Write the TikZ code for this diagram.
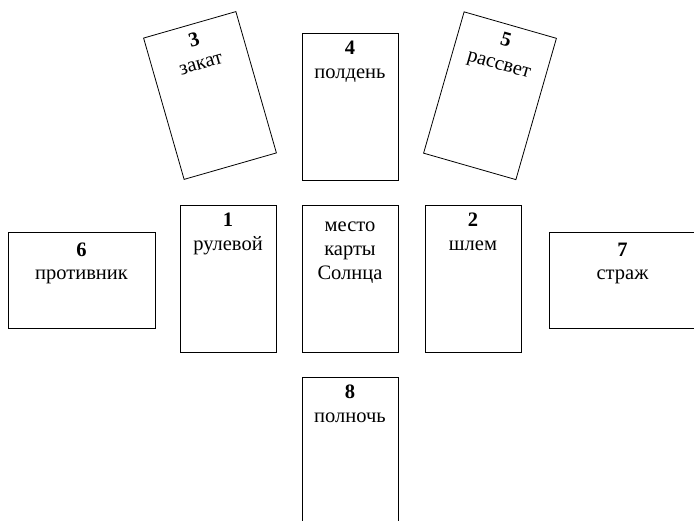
\documentclass[tikz,border=0pt]{standalone}
\usepackage{fontspec}
\setmainfont{Liberation Serif}
\begin{document}
\begin{tikzpicture}[x=1pt,y=1pt,
  card/.style={draw=black, line width=0.8pt, minimum width=96pt, minimum height=147pt, inner sep=0pt, transform shape},
  lcard/.style={draw=black, line width=0.8pt, minimum width=147pt, minimum height=96pt, inner sep=0pt},
  num/.style={font=\fontsize{20.5}{24}\selectfont\bfseries, anchor=base, inner sep=0pt, transform shape},
  lab/.style={font=\fontsize{20.5}{24}\selectfont, anchor=base, inner sep=0pt, transform shape, align=center}]
\useasboundingbox (0,0) rectangle (694,521);
\clip (0,0) rectangle (694,521);
% card 4
\node[card] (c4) at (350,414.5) {};
\node[num] (n4) at ([yshift=-22pt]c4.north) {4};
\node[lab] (t4) at ([yshift=-46pt]c4.north) {полдень};
% center
\node[card] (cc) at (350,242.5) {};
\node[lab] (tc1) at ([yshift=-27pt]cc.north) {место};
\node[lab] (tc2) at ([yshift=-51pt]cc.north) {карты};
\node[lab] (tc3) at ([yshift=-75pt]cc.north) {Солнца};
% card 1
\node[card] (c1) at (228,242.5) {};
\node[num] (n1) at ([yshift=-22pt]c1.north) {1};
\node[lab] (t1) at ([yshift=-46pt]c1.north) {рулевой};
% card 2
\node[card] (c2) at (473,242.5) {};
\node[num] (n2) at ([yshift=-22pt]c2.north) {2};
\node[lab] (t2) at ([yshift=-46pt]c2.north) {шлем};
% card 6
\node[lcard] (c6) at (81.5,241) {};
\node[num] (n6) at ([yshift=-25pt]c6.north) {6};
\node[lab] (t6) at ([yshift=-48pt]c6.north) {противник};
% card 7
\node[lcard] (c7) at (622.5,241) {};
\node[num] (n7) at ([yshift=-25pt]c7.north) {7};
\node[lab] (t7) at ([yshift=-48pt]c7.north) {страж};
% card 8
\node[card] (c8) at (350,70.5) {};
\node[num] (n8) at ([yshift=-22pt]c8.north) {8};
\node[lab] (t8) at ([yshift=-46pt]c8.north) {полночь};
% card 3
\begin{scope}[shift={(210,425.5)}, rotate=16]
\node[card] (c3) at (0,0) {};
\node[num] (n3) at (0,51.5) {3};
\node[lab] (t3) at (0,27.5) {закат};
\end{scope}
% card 5
\begin{scope}[shift={(490,425.25)}, rotate=-16]
\node[card] (c5) at (0,0) {};
\node[num] (n5) at (0,51.5) {5};
\node[lab] (t5) at (0,27.5) {рассвет};
\end{scope}
\end{tikzpicture}
\end{document}
